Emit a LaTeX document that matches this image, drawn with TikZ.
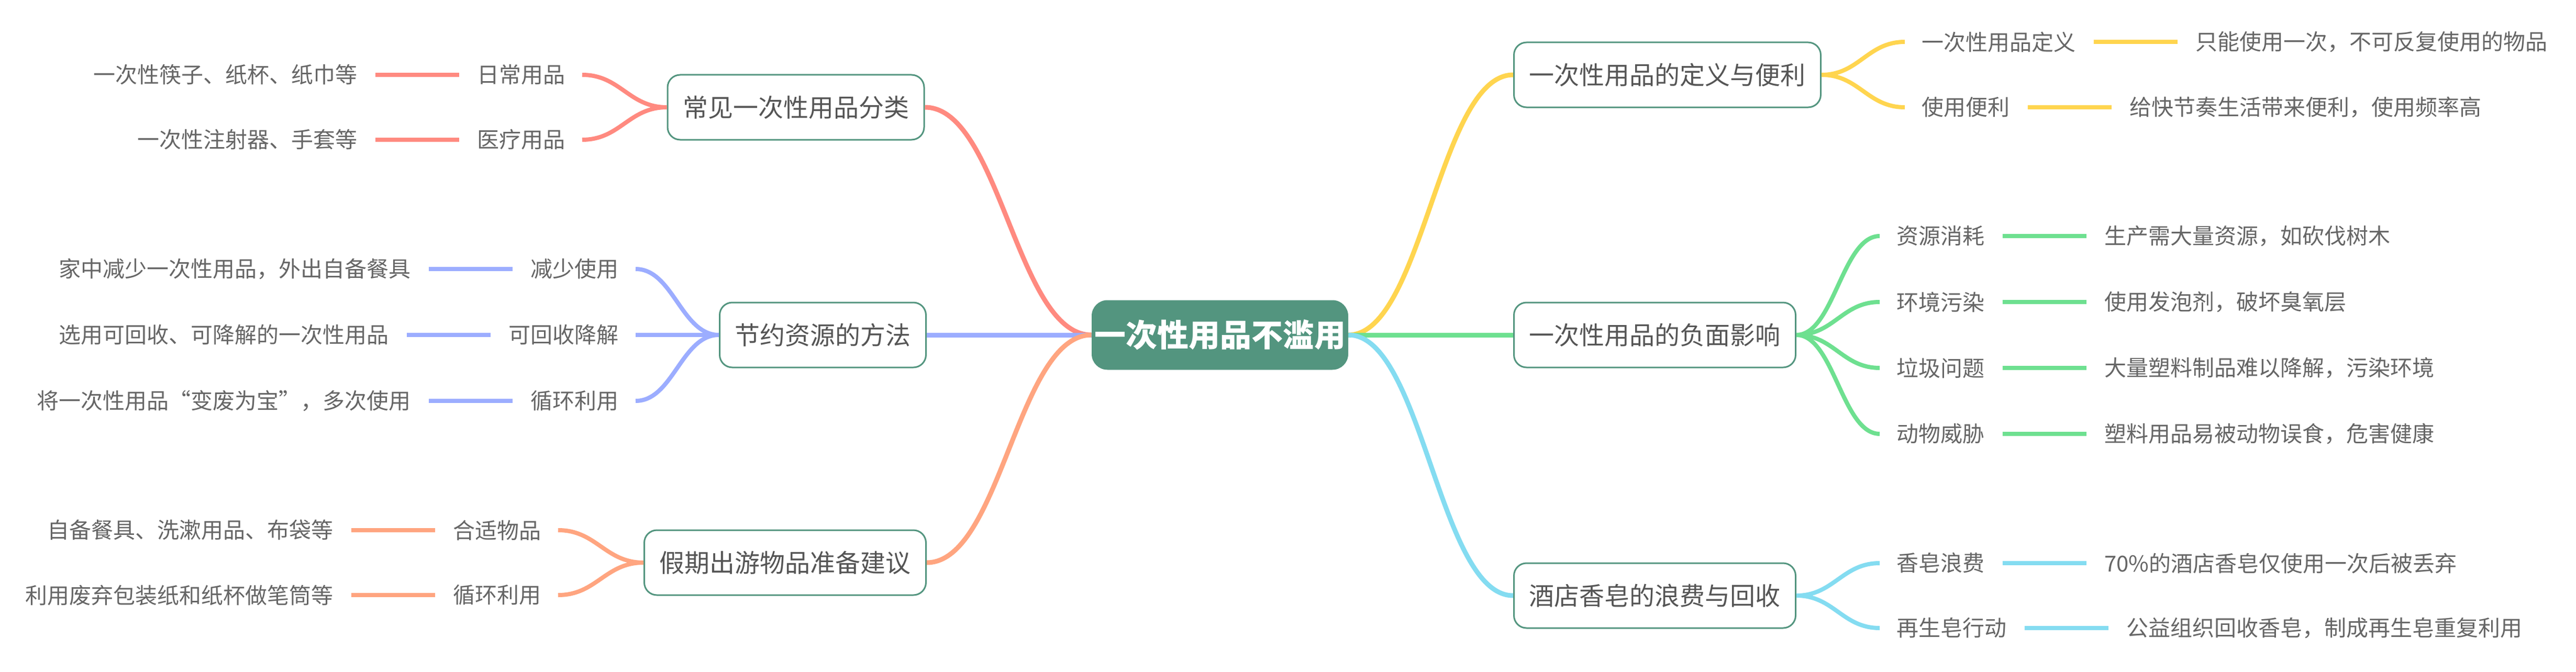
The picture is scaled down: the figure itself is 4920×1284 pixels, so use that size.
\documentclass[tikz,border=0pt]{standalone}
\usepackage{fontspec}
\setmainfont{Noto Sans CJK SC}
\usetikzlibrary{calc}
\definecolor{tealc}{HTML}{53957F}
\definecolor{boxtxt}{HTML}{555555}
\definecolor{leaftxt}{HTML}{666666}
\definecolor{cyel}{HTML}{FFD54F}
\definecolor{cgrn}{HTML}{6EE090}
\definecolor{ccya}{HTML}{84DCF1}
\definecolor{csal}{HTML}{FF8A80}
\definecolor{cblu}{HTML}{9CADFF}
\definecolor{cora}{HTML}{FFA580}
\newcommand\mmcurve[3]{\draw[#1] let \p1=(#2), \p2=(#3) in (\p1) .. controls ({\x1+0.45*(\x2-\x1)},\y1) and ({\x2-0.45*(\x2-\x1)},\y2) .. (\p2);}
\tikzset{
  every node/.style={inner sep=0pt},
  mainbox/.style={draw=tealc, line width=1.5pt, rounded corners=12pt, fill=white, minimum height=62pt, inner xsep=14.5pt, text=boxtxt, font=\fontsize{24pt}{28pt}\selectfont},
  rootbox/.style={fill=tealc, rounded corners=15pt, minimum width=245pt, minimum height=66.5pt, text=white, font=\fontsize{30pt}{34pt}\selectfont\bfseries},
  leaf/.style={text=leaftxt, font=\fontsize{21pt}{25pt}\selectfont},
  mainbr/.style={line width=4.5pt, draw=#1},
  subbr/.style={line width=4pt, draw=#1},
}
\begin{document}
\begin{tikzpicture}[x=0.5pt,y=-0.5pt]
\useasboundingbox (0,0) rectangle (4920,1284);
\fill[white] (0,0) rectangle (4920,1284);

% root
\node[rootbox] (c) at (2330,640) {一次性用品不滥用};

% right main nodes
\node[mainbox, anchor=west] (r1) at (2890,143) {一次性用品的定义与便利};
\node[mainbox, anchor=west] (r2) at (2890,640) {一次性用品的负面影响};
\node[mainbox, anchor=west] (r3) at (2890,1138) {酒店香皂的浪费与回收};
% left main nodes
\node[mainbox] (l1) at (1520,205) {常见一次性用品分类};
\node[mainbox, anchor=east] (l2) at (1770,640) {节约资源的方法};
\node[mainbox, anchor=east] (l3) at (1770,1075) {假期出游物品准备建议};

% right children
\node[leaf, anchor=west] (r1a) at (3670,80) {一次性用品定义};
\node[leaf, anchor=west] (r1b) at (3670,205) {使用便利};
\node[leaf, anchor=west] (r2a) at (3622,451) {资源消耗};
\node[leaf, anchor=west] (r2b) at (3622,577) {环境污染};
\node[leaf, anchor=west] (r2c) at (3622,703) {垃圾问题};
\node[leaf, anchor=west] (r2d) at (3622,829) {动物威胁};
\node[leaf, anchor=west] (r3a) at (3622,1076) {香皂浪费};
\node[leaf, anchor=west] (r3b) at (3622,1200) {再生皂行动};
% left children
\node[leaf, anchor=east] (l1a) at (1080,143) {日常用品};
\node[leaf, anchor=east] (l1b) at (1080,267) {医疗用品};
\node[leaf, anchor=east] (l2a) at (1182,514) {减少使用};
\node[leaf, anchor=east] (l2b) at (1182,640) {可回收降解};
\node[leaf, anchor=east] (l2c) at (1182,766) {循环利用};
\node[leaf, anchor=east] (l3a) at (1034,1013) {合适物品};
\node[leaf, anchor=east] (l3b) at (1034,1137) {循环利用};

% details right
\node[leaf, anchor=west] (r1ad) at ($(r1a.east)+(228,0)$) {只能使用一次，不可反复使用的物品};
\node[leaf, anchor=west] (r1bd) at ($(r1b.east)+(228,0)$) {给快节奏生活带来便利，使用频率高};
\node[leaf, anchor=west] (r2ad) at ($(r2a.east)+(228,0)$) {生产需大量资源，如砍伐树木};
\node[leaf, anchor=west] (r2bd) at ($(r2b.east)+(228,0)$) {使用发泡剂，破坏臭氧层};
\node[leaf, anchor=west] (r2cd) at ($(r2c.east)+(228,0)$) {大量塑料制品难以降解，污染环境};
\node[leaf, anchor=west] (r2dd) at ($(r2d.east)+(228,0)$) {塑料用品易被动物误食，危害健康};
\node[leaf, anchor=west] (r3ad) at ($(r3a.east)+(228,0)$) {70\%的酒店香皂仅使用一次后被丢弃};
\node[leaf, anchor=west] (r3bd) at ($(r3b.east)+(228,0)$) {公益组织回收香皂，制成再生皂重复利用};
% details left
\node[leaf, anchor=east] (l1ad) at ($(l1a.west)+(-228,0)$) {一次性筷子、纸杯、纸巾等};
\node[leaf, anchor=east] (l1bd) at ($(l1b.west)+(-228,0)$) {一次性注射器、手套等};
\node[leaf, anchor=east] (l2ad) at ($(l2a.west)+(-228,0)$) {家中减少一次性用品，外出自备餐具};
\node[leaf, anchor=east] (l2bd) at ($(l2b.west)+(-228,0)$) {选用可回收、可降解的一次性用品};
\node[leaf, anchor=east] (l2cd) at ($(l2c.west)+(-228,0)$) {将一次性用品“变废为宝”，多次使用};
\node[leaf, anchor=east] (l3ad) at ($(l3a.west)+(-228,0)$) {自备餐具、洗漱用品、布袋等};
\node[leaf, anchor=east] (l3bd) at ($(l3b.west)+(-228,0)$) {利用废弃包装纸和纸杯做笔筒等};

% main connectors
\mmcurve{mainbr=cyel}{c.east}{r1.west}
\draw[mainbr=cgrn] (c.east) -- (r2.west);
\mmcurve{mainbr=ccya}{c.east}{r3.west}
\mmcurve{mainbr=csal}{c.west}{l1.east}
\draw[mainbr=cblu] (c.west) -- (l2.east);
\mmcurve{mainbr=cora}{c.west}{l3.east}

% child connector end points
\foreach \n in {r1a,r1b,r2a,r2b,r2c,r2d,r3a,r3b}{
  \coordinate (\n-in) at ($(\n.west)+(-32,0)$);
  \coordinate (\n-o1) at ($(\n.east)+(34,0)$);
  \coordinate (\n-o2) at ($(\n.east)+(194,0)$);
}
\foreach \n in {l1a,l1b,l2a,l2b,l2c,l3a,l3b}{
  \coordinate (\n-in) at ($(\n.east)+(32,0)$);
  \coordinate (\n-o1) at ($(\n.west)+(-34,0)$);
  \coordinate (\n-o2) at ($(\n.west)+(-194,0)$);
}

% child curves
\mmcurve{subbr=cyel}{r1.east}{r1a-in}
\mmcurve{subbr=cyel}{r1.east}{r1b-in}
\mmcurve{subbr=cgrn}{r2.east}{r2a-in}
\mmcurve{subbr=cgrn}{r2.east}{r2b-in}
\mmcurve{subbr=cgrn}{r2.east}{r2c-in}
\mmcurve{subbr=cgrn}{r2.east}{r2d-in}
\mmcurve{subbr=ccya}{r3.east}{r3a-in}
\mmcurve{subbr=ccya}{r3.east}{r3b-in}
\mmcurve{subbr=csal}{l1.west}{l1a-in}
\mmcurve{subbr=csal}{l1.west}{l1b-in}
\mmcurve{subbr=cblu}{l2.west}{l2a-in}
\draw[subbr=cblu] (l2.west) -- (l2b-in);
\mmcurve{subbr=cblu}{l2.west}{l2c-in}
\mmcurve{subbr=cora}{l3.west}{l3a-in}
\mmcurve{subbr=cora}{l3.west}{l3b-in}

% child-to-detail lines
\draw[subbr=cyel] (r1a-o1) -- (r1a-o2);
\draw[subbr=cyel] (r1b-o1) -- (r1b-o2);
\draw[subbr=cgrn] (r2a-o1) -- (r2a-o2);
\draw[subbr=cgrn] (r2b-o1) -- (r2b-o2);
\draw[subbr=cgrn] (r2c-o1) -- (r2c-o2);
\draw[subbr=cgrn] (r2d-o1) -- (r2d-o2);
\draw[subbr=ccya] (r3a-o1) -- (r3a-o2);
\draw[subbr=ccya] (r3b-o1) -- (r3b-o2);
\draw[subbr=csal] (l1a-o1) -- (l1a-o2);
\draw[subbr=csal] (l1b-o1) -- (l1b-o2);
\draw[subbr=cblu] (l2a-o1) -- (l2a-o2);
\draw[subbr=cblu] (l2b-o1) -- (l2b-o2);
\draw[subbr=cblu] (l2c-o1) -- (l2c-o2);
\draw[subbr=cora] (l3a-o1) -- (l3a-o2);
\draw[subbr=cora] (l3b-o1) -- (l3b-o2);
\end{tikzpicture}
\end{document}
